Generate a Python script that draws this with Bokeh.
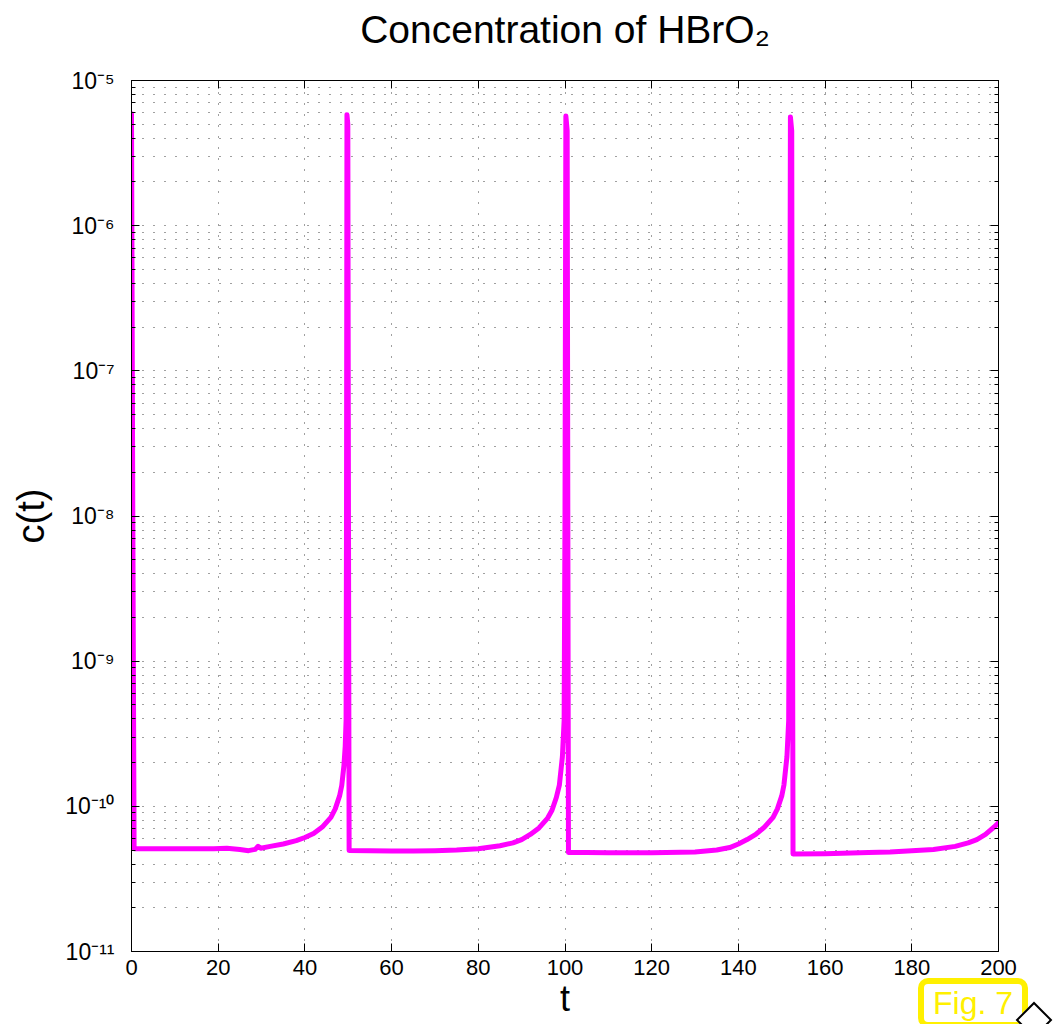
from bokeh.plotting import figure
from bokeh.models import (Range1d, FixedTicker, LinearAxis, LogAxis,
                          CustomJSTickFormatter, CustomLabelingPolicy)
from bokeh.embed import file_html
from bokeh.resources import INLINE

# ---------------- data ----------------
t = [0.0, 0.3, 0.6,
     5, 10, 15, 19, 22, 25, 27, 28.5, 29.2, 29.8, 32, 35, 38, 40, 42, 44, 46, 47, 48,
     48.5, 49.0, 49.3, 49.5, 49.6, 49.7, 49.9, 50.05, 50.2,
     55, 60, 65, 70, 75, 80, 85, 88, 90, 92, 94, 96, 97, 98, 98.7, 99.4, 99.8,
     100.0, 100.2, 100.5, 100.65, 100.8,
     105, 110, 120, 130, 135, 138, 140, 142, 144, 146, 148, 149, 150, 150.5, 151.2,
     151.6, 151.8, 152.0, 152.3, 152.45, 152.6,
     160, 170, 175, 180, 185, 190, 193, 195, 197, 198, 199, 200]
c = [5.9e-6, 1e-8, 5.1e-11,
     5.1e-11, 5.1e-11, 5.1e-11, 5.1e-11, 5.15e-11, 5.05e-11, 4.95e-11, 5.05e-11, 5.3e-11,
     5.15e-11, 5.3e-11, 5.5e-11, 5.8e-11, 6.1e-11, 6.5e-11, 7.2e-11, 8.4e-11, 9.6e-11,
     1.18e-10, 1.39e-10, 1.9e-10, 2.6e-10, 3.9e-10, 1e-8, 5.8e-6, 5.0e-6, 1e-8, 4.96e-11,
     4.94e-11, 4.93e-11, 4.93e-11, 4.95e-11, 5.0e-11, 5.1e-11, 5.35e-11, 5.6e-11, 5.9e-11,
     6.4e-11, 7.1e-11, 8.3e-11, 9.4e-11, 1.15e-10, 1.4e-10, 2.2e-10, 3.9e-10,
     1e-8, 5.7e-6, 4.5e-6, 1e-8, 4.8e-11,
     4.8e-11, 4.78e-11, 4.78e-11, 4.85e-11, 5.0e-11, 5.2e-11, 5.5e-11, 5.9e-11, 6.4e-11,
     7.2e-11, 8.4e-11, 9.6e-11, 1.18e-10, 1.4e-10, 2.2e-10,
     3.9e-10, 1e-8, 5.6e-6, 4.5e-6, 1e-8, 4.7e-11,
     4.72e-11, 4.8e-11, 4.85e-11, 4.95e-11, 5.05e-11, 5.3e-11, 5.6e-11, 5.9e-11, 6.4e-11,
     6.8e-11, 7.2e-11, 7.7e-11]

x_ticks = [0, 20, 40, 60, 80, 100, 120, 140, 160, 180, 200]
y_exponents = [-11, -10, -9, -8, -7, -6, -5]
y_tick_labels = ["10\u207b\u00b9\u00b9", "10\u207b\u00b9\u2070", "10\u207b\u2079",
                 "10\u207b\u2078", "10\u207b\u2077", "10\u207b\u2076", "10\u207b\u2075"]
title_text = "Concentration of HBrO\u2082"
x_label = "t"
y_label = "c(t)"
fig_tag = "Fig. 7"

# ---------------- figure ----------------
FONT = "Liberation Sans"
y_major = [10.0 ** e for e in y_exponents]
y_minor = [k * 10.0 ** e for e in y_exponents[:-1] for k in range(2, 10)]

p = figure(width=1045, height=1024, y_axis_type="log",
           x_range=Range1d(0, 200), y_range=Range1d(1e-11, 1e-5),
           output_backend="svg", toolbar_location=None, title=None,
           min_border_left=131, min_border_top=80, min_border_right=47,
           min_border_bottom=73)
p.outline_line_color = "black"
p.outline_line_width = 1
p.background_fill_color = "white"
p.border_fill_color = "white"

no_labels = CustomLabelingPolicy(code="""
try {
  for (const i of Array.from(indices.ones())) { indices.unset(i) }
} catch (e) {}
return indices
""")
blank = CustomJSTickFormatter(code="return ''")

# bottom x axis
xa = p.xaxis[0]
xa.ticker = FixedTicker(ticks=x_ticks)
xa.major_label_text_font = FONT
xa.major_label_text_font_size = "22px"
xa.major_label_text_color = "black"
xa.major_tick_in = 8
xa.major_tick_out = 0
xa.minor_tick_line_color = None
xa.major_label_standoff = 8
xa.axis_line_color = "black"
xa.axis_label = x_label
xa.axis_label_text_font = FONT
xa.axis_label_text_font_size = "36px"
xa.axis_label_text_font_style = "normal"
xa.axis_label_text_color = "black"
xa.axis_label_standoff = 0

# left y axis
ya = p.yaxis[0]
ya.ticker = FixedTicker(ticks=y_major, minor_ticks=y_minor)
ya.major_label_overrides = {v: s for v, s in zip(y_major, y_tick_labels)}
ya.major_label_text_font = FONT
ya.major_label_text_font_size = "23px"
ya.major_label_text_color = "black"
ya.major_label_standoff = 17
ya.major_tick_in = 8
ya.major_tick_out = 0
ya.minor_tick_in = 4
ya.minor_tick_out = 0
ya.axis_line_color = "black"
ya.axis_label = y_label
ya.axis_label_text_font = FONT
ya.axis_label_text_font_size = "38px"
ya.axis_label_text_font_style = "normal"
ya.axis_label_text_color = "black"
ya.axis_label_standoff = 10

# top axis: ticks only, and it carries the chart title as its axis label
top = LinearAxis(ticker=FixedTicker(ticks=x_ticks), formatter=blank,
                 major_label_policy=no_labels, major_label_text_font_size="1px",
                 major_tick_in=8, major_tick_out=0, minor_tick_line_color=None,
                 major_label_standoff=0,
                 axis_label=title_text, axis_label_text_font=FONT,
                 axis_label_text_font_size="39px", axis_label_text_font_style="normal",
                 axis_label_text_color="black", axis_label_standoff=30)
p.add_layout(top, "above")

# right axis: ticks only
right = LogAxis(ticker=FixedTicker(ticks=y_major, minor_ticks=y_minor), formatter=blank,
                major_label_policy=no_labels, major_label_text_font_size="1px",
                major_tick_in=8, major_tick_out=0,
                minor_tick_in=4, minor_tick_out=0, major_label_standoff=0)
p.add_layout(right, "right")

# grids
p.xgrid.ticker = FixedTicker(ticks=x_ticks)
p.xgrid.grid_line_color = "black"
p.xgrid.grid_line_alpha = 0.75
p.xgrid.grid_line_dash = "1 10"
p.ygrid.ticker = FixedTicker(ticks=y_major, minor_ticks=y_minor)
p.ygrid.grid_line_color = "black"
p.ygrid.grid_line_alpha = 0.75
p.ygrid.grid_line_dash = "1 10"
p.ygrid.minor_grid_line_color = "black"
p.ygrid.minor_grid_line_alpha = 0.75
p.ygrid.minor_grid_line_dash = "1 10"

# data line
p.line(t, c, line_color="#ff00ff", line_width=5, line_join="round", line_cap="round")

# page, plus the slide's "Fig. 7" tag (an HTML overlay, outside the plot frame)
html = file_html(p, INLINE)
tag = (
    '<div style="position:fixed; left:918px; top:978px; box-sizing:content-box; '
    'border:6px solid #fff000; border-radius:10px; padding:0 9px; background:white; '
    'color:#fff000; font-family:\'Liberation Sans\', sans-serif; font-size:32px; '
    'line-height:38px; white-space:nowrap; z-index:10;">' + fig_tag + '</div>'
    '<div style="position:fixed; left:1021px; top:1007px; width:22px; height:22px; '
    'border:2px solid black; background:white; transform:rotate(45deg); '
    'z-index:11;"></div>'
)
html = html.replace("</body>", tag + "</body>")
open("out.html", "w").write(html)
